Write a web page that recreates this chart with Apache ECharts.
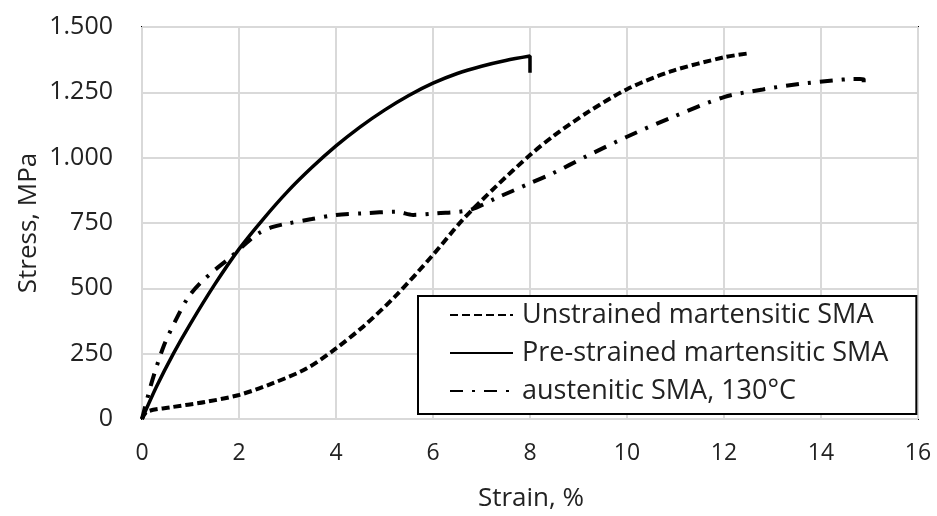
<!DOCTYPE html>
<html>
<head>
<meta charset="utf-8">
<script src="https://cdn.jsdelivr.net/npm/echarts@6/dist/echarts.min.js"></script>
<style>
  html, body { margin: 0; padding: 0; background: #fff; }
  #chart { width: 937px; height: 516px; }
</style>
</head>
<body>
<div id="chart"></div>
<script>
// Stress–strain curves of shape memory alloy wires (strain in %, stress in MPa)
var seriesNames = [
  'Unstrained martensitic SMA',
  'Pre-strained martensitic SMA',
  'austenitic SMA, 130°C'
];

var unstrainedStrain = [0, 0.1, 0.6, 1.3, 2.0, 2.7, 3.4, 4.0, 4.6, 5.25, 6.0, 6.6, 7.3, 8.0, 8.5, 9.2, 10.0, 10.9, 12.0, 12.5];
var unstrainedStress = [0, 28, 45, 65, 92, 137, 194, 270, 360, 475, 628, 760, 890, 1010, 1085, 1175, 1262, 1330, 1384, 1399];

var preStrain = [0, 0.3, 0.65, 1.0, 1.5, 2.0, 2.5, 3.0, 3.5, 4.0, 4.5, 5.0, 5.5, 6.0, 6.5, 7.0, 7.5, 8.0, 8.0];
var preStress = [0, 124, 251, 365, 515, 650, 765, 870, 962, 1045, 1118, 1182, 1238, 1285, 1322, 1350, 1372, 1389, 1325];

var austStrain = [0, 0.2, 0.45, 0.7, 0.95, 1.2, 1.5, 1.8, 2.1, 2.4, 2.7, 3.0, 3.5, 4.0, 4.56, 5.25, 5.59, 6.07, 6.76, 7.3, 8.0, 8.47, 9.16, 10.0, 10.87, 12.0, 12.8, 13.55, 14.24, 14.65, 14.88, 14.88];
var austStress = [0, 140, 280, 380, 465, 520, 570, 615, 665, 710, 735, 748, 765, 781, 787, 793, 781, 787, 800, 845, 902, 940, 1005, 1080, 1150, 1232, 1261, 1282, 1295, 1301, 1300, 1270];

var xTicks = [0, 2, 4, 6, 8, 10, 12, 14, 16];
var yTicks = [0, 250, 500, 750, 1000, 1250, 1500];

function pairs(xs, ys) {
  return xs.map(function (x, i) { return [x, ys[i]]; });
}

// thousands separator shown as a period
function fmtStress(v) {
  return String(v).replace(/\B(?=(\d{3})+(?!\d))/g, '.');
}

var FONT = 'Open Sans';
var INK = '#222';

var chart = echarts.init(document.getElementById('chart'), null, { renderer: 'canvas' });

chart.setOption({
  animation: false,
  backgroundColor: '#ffffff',
  color: ['#000', '#000', '#000'],
  textStyle: { fontFamily: FONT, color: INK },
  grid: {
    left: 142, right: 19, top: 27, bottom: 97,
    show: true, borderColor: '#000', borderWidth: 2, backgroundColor: 'transparent'
  },
  xAxis: {
    type: 'value',
    min: xTicks[0], max: xTicks[xTicks.length - 1], interval: 2,
    axisLine: { show: false },
    axisTick: { show: false },
    splitLine: { show: true, lineStyle: { color: '#d9d9d9', width: 2 } },
    axisLabel: { fontFamily: FONT, fontSize: 23, color: INK, margin: 23 }
  },
  yAxis: {
    type: 'value',
    min: yTicks[0], max: yTicks[yTicks.length - 1], interval: 250,
    axisLine: { show: false },
    axisTick: { show: false },
    splitLine: { show: true, lineStyle: { color: '#d9d9d9', width: 2 } },
    axisLabel: { fontFamily: FONT, fontSize: 25, color: INK, margin: 29, formatter: fmtStress }
  },
  graphic: [
    {
      type: 'text',
      x: 531, y: 499,
      style: { text: 'Strain, %', font: '26px "Open Sans"', fill: INK, textAlign: 'center', textVerticalAlign: 'middle' }
    },
    {
      type: 'text',
      rotation: Math.PI / 2,
      x: 29, y: 223,
      style: { text: 'Stress, MPa', font: '26px "Open Sans"', fill: INK, textAlign: 'center', textVerticalAlign: 'middle' }
    }
  ],
  legend: {
    orient: 'vertical',
    left: 418, top: 296,
    padding: [4, 28, 8, 31],
    itemWidth: 63, itemHeight: 14, itemGap: 8,
    borderColor: '#000', borderWidth: 2, backgroundColor: '#fff',
    itemStyle: { opacity: 0 },
    textStyle: { fontFamily: FONT, fontSize: 27, lineHeight: 30, color: INK, padding: [0, 0, 0, 4] },
    data: seriesNames
  },
  series: [
    {
      name: seriesNames[0], type: 'line', symbol: 'none', smooth: 0.3,
      lineStyle: { color: '#000', width: 4, type: [8, 4] },
      data: pairs(unstrainedStrain, unstrainedStress)
    },
    {
      name: seriesNames[1], type: 'line', symbol: 'none', smooth: 0.3,
      lineStyle: { color: '#000', width: 3.5, type: 'solid' },
      data: pairs(preStrain, preStress)
    },
    {
      name: seriesNames[2], type: 'line', symbol: 'none', smooth: 0.3,
      lineStyle: { color: '#000', width: 4, type: [13, 9, 3, 9] },
      data: pairs(austStrain, austStress)
    }
  ]
});
</script>
</body>
</html>
